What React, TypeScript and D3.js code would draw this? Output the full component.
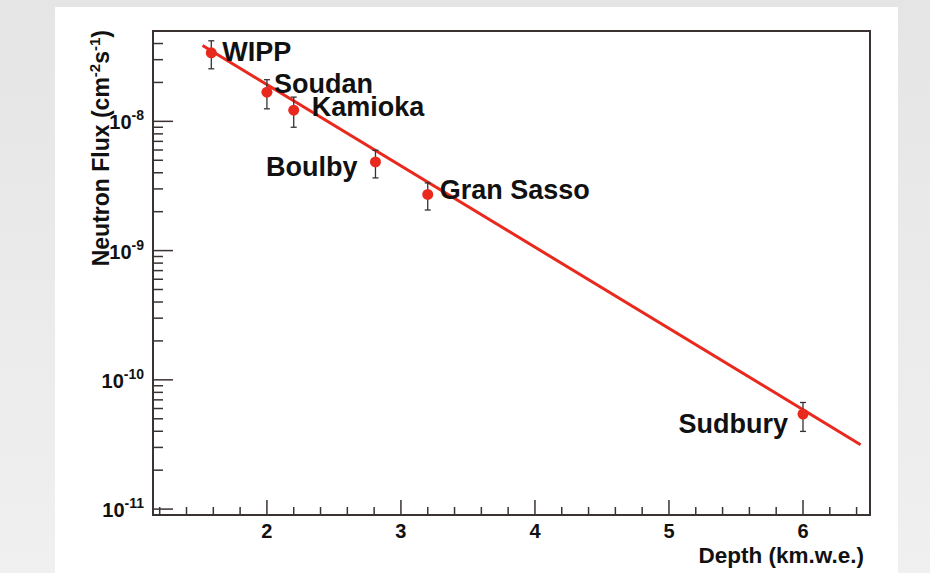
import React, { useEffect, useRef } from 'react'
import * as d3 from 'd3'

// measured sites (depth in km.w.e., neutron flux in cm^-2 s^-1)
const sites = ['WIPP', 'Soudan', 'Kamioka', 'Boulby', 'Gran Sasso', 'Sudbury']
const depth = [1.585, 2.0, 2.2, 2.81, 3.2, 6.0]
const flux = [3.39e-8, 1.68e-8, 1.22e-8, 4.85e-9, 2.72e-9, 5.43e-11]
const fluxHigh = [4.2e-8, 2.1e-8, 1.54e-8, 5.97e-9, 3.34e-9, 6.68e-11]
const fluxLow = [2.55e-8, 1.25e-8, 9.0e-9, 3.65e-9, 2.06e-9, 3.99e-11]

// fitted exponential (straight on the log axis), end points
const fitDepth = [1.52, 6.43]
const fitFlux = [3.86e-8, 3.15e-11]

const xMajorTicks = [2, 3, 4, 5, 6]
const yMajorTicks = [1e-11, 1e-10, 1e-9, 1e-8]
const yMajorExp = ['-11', '-10', '-9', '-8']

// label placement relative to each point
const labelPos: Record<string, { dx: number; dy: number; anchor: string }> = {
  'WIPP': { dx: 11, dy: 8, anchor: 'start' },
  'Soudan': { dx: 7, dy: 1, anchor: 'start' },
  'Kamioka': { dx: 18, dy: 6, anchor: 'start' },
  'Boulby': { dx: -18, dy: 14, anchor: 'end' },
  'Gran Sasso': { dx: 12, dy: 5, anchor: 'start' },
  'Sudbury': { dx: -15, dy: 19, anchor: 'end' },
}

const FONT = "'Liberation Sans', Arial, Helvetica, sans-serif"
const RED = '#e9291d'
const AXIS = '#3b3232'

export default function App() {
  const svgRef = useRef<SVGSVGElement>(null)

  useEffect(() => {
    if (!svgRef.current) return
    const width = 930
    const height = 573
    const left = 153, right = 870, top = 31, bottom = 515

    const svg = d3.select(svgRef.current)
    svg.selectAll('*').remove()
    svg.attr('width', width).attr('height', height)
      .style('font-family', FONT)

    const defs = svg.append('defs')
    const grad = defs.append('linearGradient').attr('id', 'bg').attr('x1', 0).attr('y1', 0).attr('x2', 0).attr('y2', 1)
    grad.append('stop').attr('offset', '0%').attr('stop-color', '#e5e5e5')
    grad.append('stop').attr('offset', '100%').attr('stop-color', '#f0f0f0')

    svg.append('rect').attr('width', width).attr('height', height).attr('fill', 'url(#bg)')
    svg.append('rect').attr('x', 55).attr('y', 7).attr('width', 843).attr('height', height - 7).attr('fill', '#fff')

    const x = d3.scaleLinear().domain([1.15, 6.5]).range([left, right])
    const y = d3.scaleLog().domain([9e-12, 5e-8]).range([bottom, top])

    // frame
    svg.append('rect')
      .attr('x', left).attr('y', top)
      .attr('width', right - left).attr('height', bottom - top)
      .attr('fill', 'none').attr('stroke', AXIS).attr('stroke-width', 2)

    // y ticks
    const yMinor = y.ticks().filter(v => v >= 9e-12 && v <= 5e-8)
    svg.append('g').selectAll('line').data(yMinor).join('line')
      .attr('x1', left).attr('x2', d => left + (yMajorTicks.some(m => Math.abs(m - d) / m < 1e-6) ? 20 : 10))
      .attr('y1', d => y(d)).attr('y2', d => y(d))
      .attr('stroke', AXIS).attr('stroke-width', 1.5)

    const yl = svg.append('g').selectAll('text').data(yMajorTicks).join('text')
      .attr('x', 144).attr('y', d => y(d) + 8)
      .attr('text-anchor', 'end')
      .attr('font-weight', 'bold').attr('font-size', 20).attr('fill', '#111')
    yl.append('tspan').text('10')
    yl.append('tspan').attr('dy', -9).attr('font-size', 14).text((d, i) => yMajorExp[i])

    // x ticks
    const xMinor = x.ticks(26).filter(v => v > 1.15 && v < 6.5)
    svg.append('g').selectAll('line').data(xMinor).join('line')
      .attr('x1', d => x(d)).attr('x2', d => x(d))
      .attr('y1', bottom).attr('y2', d => bottom - (xMajorTicks.some(m => Math.abs(m - d) < 1e-6) ? 15 : 8))
      .attr('stroke', AXIS).attr('stroke-width', 1.5)

    svg.append('g').selectAll('text').data(xMajorTicks).join('text')
      .attr('x', d => x(d)).attr('y', bottom + 23)
      .attr('text-anchor', 'middle')
      .attr('font-weight', 'bold').attr('font-size', 20).attr('fill', '#111')
      .text(d => d)

    // axis titles
    svg.append('text')
      .attr('x', 864).attr('y', 563)
      .attr('text-anchor', 'end')
      .attr('font-weight', 'bold').attr('font-size', 22.5).attr('fill', '#111')
      .text('Depth (km.w.e.)')

    const yt = svg.append('text')
      .attr('transform', `translate(109,${top - 1}) rotate(-90)`)
      .attr('text-anchor', 'end')
      .attr('font-weight', 'bold').attr('font-size', 23).attr('fill', '#111')
    yt.append('tspan').text('Neutron Flux (cm')
    yt.append('tspan').attr('dy', -9).attr('font-size', 15).text('-2')
    yt.append('tspan').attr('dy', 9).text('s')
    yt.append('tspan').attr('dy', -9).attr('font-size', 15).text('-1')
    yt.append('tspan').attr('dy', 9).text(')')

    // fit line
    const fit = fitDepth.map((d, i) => [d, fitFlux[i]] as [number, number])
    svg.append('path')
      .datum(fit)
      .attr('d', d3.line<[number, number]>().x(d => x(d[0])).y(d => y(d[1])))
      .attr('fill', 'none').attr('stroke', RED).attr('stroke-width', 3)

    // error bars
    const idx = d3.range(sites.length)
    const eb = svg.append('g').attr('stroke', '#333').attr('stroke-width', 1.3)
    eb.selectAll('line.v').data(idx).join('line').attr('class', 'v')
      .attr('x1', i => x(depth[i])).attr('x2', i => x(depth[i]))
      .attr('y1', i => y(fluxHigh[i])).attr('y2', i => y(fluxLow[i]))
    eb.selectAll('line.h').data(idx).join('line').attr('class', 'h')
      .attr('x1', i => x(depth[i]) - 3).attr('x2', i => x(depth[i]) + 3)
      .attr('y1', i => y(fluxHigh[i])).attr('y2', i => y(fluxHigh[i]))
    eb.selectAll('line.l').data(idx).join('line').attr('class', 'l')
      .attr('x1', i => x(depth[i]) - 3).attr('x2', i => x(depth[i]) + 3)
      .attr('y1', i => y(fluxLow[i])).attr('y2', i => y(fluxLow[i]))

    // points
    svg.append('g').selectAll('circle').data(idx).join('circle')
      .attr('cx', i => x(depth[i])).attr('cy', i => y(flux[i]))
      .attr('r', 5.5).attr('fill', RED)

    // site labels
    svg.append('g').selectAll('text').data(idx).join('text')
      .attr('x', i => x(depth[i]) + labelPos[sites[i]].dx)
      .attr('y', i => y(flux[i]) + labelPos[sites[i]].dy)
      .attr('text-anchor', i => labelPos[sites[i]].anchor)
      .attr('font-weight', 'bold').attr('font-size', 27).attr('fill', '#111')
      .text(i => sites[i])
  }, [])

  return (
    <div style={{ position: 'absolute', left: 0, top: 0 }}>
      <svg ref={svgRef} style={{ display: 'block' }}></svg>
    </div>
  )
}
